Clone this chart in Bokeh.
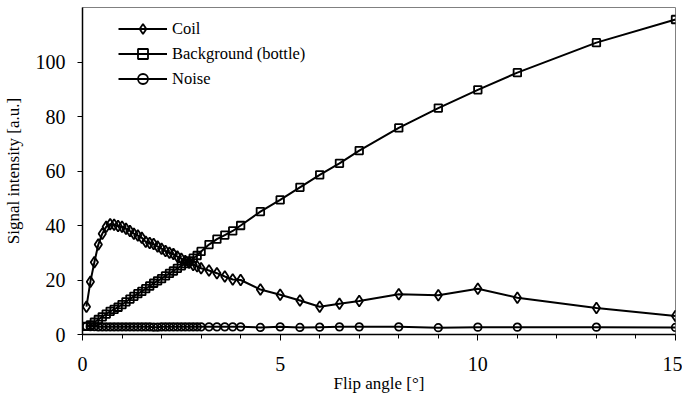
from bokeh.plotting import figure
from bokeh.models import FixedTicker, Range1d, Legend, LegendItem, ColumnDataSource
from bokeh.embed import file_html
from bokeh.resources import INLINE

flip_angle = [0.1, 0.2, 0.3, 0.4, 0.5, 0.6, 0.7, 0.8, 0.9, 1.0,
              1.1, 1.2, 1.3, 1.4, 1.5, 1.6, 1.7, 1.8, 1.9, 2.0,
              2.1, 2.2, 2.3, 2.4, 2.5, 2.6, 2.7, 2.8, 2.9, 3.0,
              3.2, 3.4, 3.6, 3.8, 4.0, 4.5, 5.0, 5.5, 6.0, 6.5,
              7.0, 8.0, 9.0, 10.0, 11.0, 13.0, 15.0]

coil = [10.2, 19.4, 26.5, 33.0, 37.0, 39.5, 40.5, 40.3, 39.8, 39.5,
        38.8, 38.0, 37.0, 36.3, 35.5, 34.0, 33.6, 33.2, 32.3, 31.5,
        30.6, 30.0, 29.5, 28.6, 27.8, 27.0, 26.3, 25.5, 25.0, 24.3,
        23.5, 22.5, 21.3, 20.2, 20.0, 16.5, 14.6, 12.5, 10.2, 11.3,
        12.3, 14.8, 14.4, 16.8, 13.5, 9.7, 6.8]

background = [3.0, 3.5, 4.5, 5.5, 6.5, 7.5, 8.5, 9.2, 10.0, 11.0,
              12.0, 13.0, 14.0, 15.0, 15.8, 16.8, 17.8, 18.8, 19.7, 20.5,
              21.5, 22.4, 23.3, 24.3, 25.2, 26.0, 27.0, 28.0, 29.0, 30.5,
              33.0, 35.0, 36.5, 38.0, 40.0, 45.1, 49.4, 54.0, 58.6, 62.8,
              67.5, 75.8, 83.1, 89.8, 96.1, 107.1, 115.6]

noise = [3.0, 2.9, 2.9, 2.8, 2.8, 2.8, 2.8, 2.8, 2.8, 2.8,
         2.8, 2.8, 2.8, 2.8, 2.8, 2.8, 2.8, 2.7, 2.7, 2.8,
         2.8, 2.8, 2.8, 2.8, 2.8, 2.8, 2.8, 2.8, 2.8, 2.8,
         2.8, 2.8, 2.8, 2.8, 2.8, 2.6, 2.8, 2.6, 2.7, 2.8,
         2.8, 2.8, 2.5, 2.7, 2.7, 2.7, 2.6]

series_names = ["Coil", "Background (bottle)", "Noise"]
x_ticks = [0, 5, 10, 15]
x_minor = [1, 2, 3, 4, 6, 7, 8, 9, 11, 12, 13, 14]
y_ticks = [0, 20, 40, 60, 80, 100]

SERIF = "Liberation Serif"

p = figure(width=682, height=397, output_backend="svg", toolbar_location=None,
           x_range=Range1d(0, 15), y_range=Range1d(0, 120),
           min_border_left=82, min_border_right=7, min_border_top=7,
           min_border_bottom=63)
p.xgrid.visible = False
p.ygrid.visible = False
p.outline_line_color = "#808080"
p.outline_line_width = 1
p.background_fill_color = "white"
p.border_fill_color = "white"

src = ColumnDataSource(dict(x=flip_angle, coil=coil, bg=background, noise=noise))

items = []
for col, marker, size, name in [("coil", "diamond", 11, series_names[0]),
                                ("bg", "square", 7.5, series_names[1]),
                                ("noise", "circle", 7.5, series_names[2])]:
    ln = p.line("x", col, source=src, line_color="black", line_width=2)
    sc = p.scatter("x", col, source=src, marker=marker, size=size,
                   line_color="black", line_width=1.8, fill_alpha=0)
    items.append(LegendItem(label=name, renderers=[ln, sc]))

legend = Legend(items=items, location=(36, 243), margin=0, padding=0,
                spacing=0, glyph_width=49, glyph_height=25, label_height=25,
                label_standoff=5, border_line_alpha=0, background_fill_alpha=0,
                label_text_font=SERIF, label_text_font_size="16.5px",
                label_text_color="black")
p.add_layout(legend, "center")

xa = p.xaxis[0]
xa.ticker = FixedTicker(ticks=x_ticks, minor_ticks=x_minor)
xa.axis_label = "Flip angle [°]"
xa.major_tick_in = 0
xa.major_tick_out = 6
xa.minor_tick_in = 0
xa.minor_tick_out = 4
xa.major_label_standoff = 16
xa.axis_label_standoff = 0

ya = p.yaxis[0]
ya.ticker = FixedTicker(ticks=y_ticks, minor_ticks=[])
ya.axis_label = "Signal intensity [a.u.]"
ya.major_tick_in = 0
ya.major_tick_out = 5
ya.minor_tick_out = 0
ya.minor_tick_in = 0
ya.major_label_standoff = 12
ya.axis_label_standoff = 10

for ax in (xa, ya):
    ax.axis_line_color = "black"
    ax.axis_line_width = 1.5
    ax.major_tick_line_color = "black"
    ax.minor_tick_line_color = "black"
    ax.major_label_text_font = SERIF
    ax.major_label_text_font_size = "20px"
    ax.major_label_text_color = "black"
    ax.axis_label_text_font = SERIF
    ax.axis_label_text_font_size = "17px"
    ax.axis_label_text_font_style = "normal"
    ax.axis_label_text_color = "black"

open("out.html", "w").write(file_html(p, INLINE))
